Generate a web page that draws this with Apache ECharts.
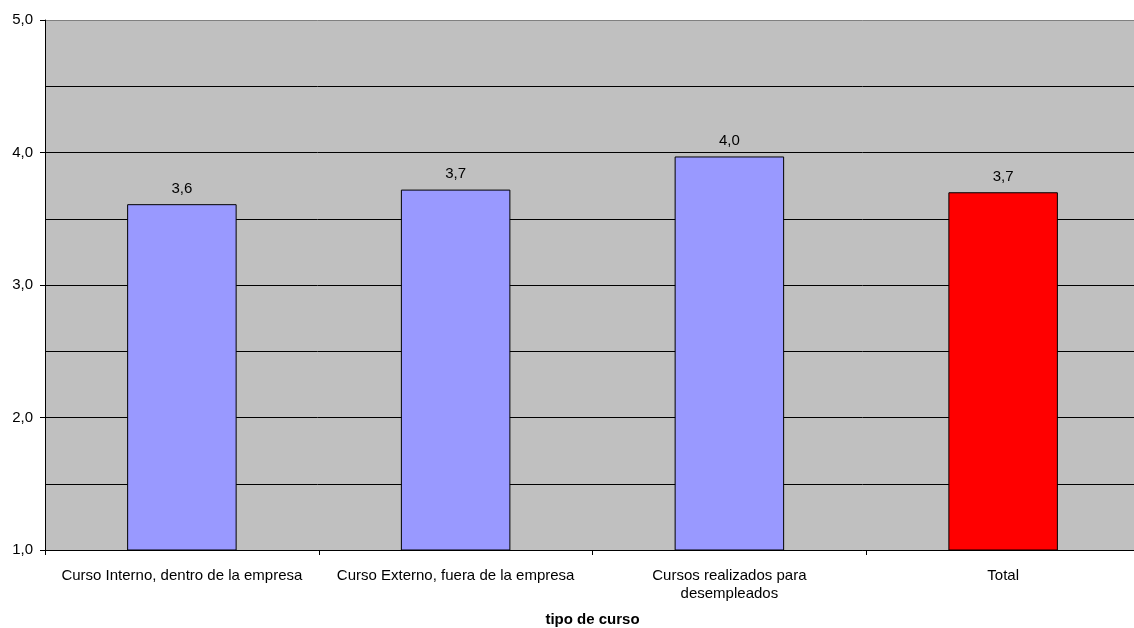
<!DOCTYPE html>
<html>
<head>
<meta charset="utf-8">
<script src="https://cdn.jsdelivr.net/npm/echarts@6/dist/echarts.min.js"></script>
<style>
  html, body { margin: 0; padding: 0; background: #fff; }
  #chart { width: 1134px; height: 628px; }
</style>
</head>
<body>
<div id="chart"></div>
<script>
// Course types along the category axis
const categories = [
  'Curso Interno, dentro de la empresa',
  'Curso Externo, fuera de la empresa',
  'Cursos realizados para\ndesempleados',
  'Total'
];
// Average rating per course type
const values = [3.61, 3.72, 3.97, 3.70];
const barColors = ['#9999FF', '#9999FF', '#9999FF', '#FF0000'];

const fmt = v => v.toFixed(1).replace('.', ',');
const font = 'Liberation Sans, Arial, sans-serif';

const chart = echarts.init(document.getElementById('chart'));
chart.setOption({
  animation: false,
  grid: {
    left: 45, top: 20, width: 1095, height: 530,
    outerBoundsMode: 'none',
    containLabel: false,
    show: true, backgroundColor: '#C0C0C0', borderWidth: 0
  },
  xAxis: {
    type: 'category',
    data: categories,
    name: 'tipo de curso',
    nameLocation: 'middle',
    nameGap: 62,
    nameTextStyle: { fontFamily: font, fontSize: 15, fontWeight: 'bold', color: '#000' },
    axisLine: { lineStyle: { color: '#000', width: 1 } },
    axisTick: { show: true, length: 5, lineStyle: { color: '#000' } },
    axisLabel: { fontFamily: font, fontSize: 15, color: '#000', margin: 17, lineHeight: 18, interval: 0 }
  },
  yAxis: {
    type: 'value',
    min: 1, max: 5, interval: 1,
    axisLine: { show: true, lineStyle: { color: '#000', width: 1 } },
    axisTick: { show: true, length: 5, lineStyle: { color: '#000' } },
    axisLabel: { fontFamily: font, fontSize: 15, color: '#000', margin: 12, formatter: fmt },
    splitLine: { show: true, lineStyle: { color: ['#000', '#000', '#000', '#000', '#808080'], width: 1 } },
    minorTick: { show: false, splitNumber: 2 },
    minorSplitLine: { show: true, lineStyle: { color: '#000', width: 1 } }
  },
  series: [{
    type: 'bar',
    barWidth: '40%',
    data: values.map((v, i) => ({
      value: v,
      itemStyle: { color: barColors[i], borderColor: '#000', borderWidth: 1 }
    })),
    label: {
      show: true, position: 'top', distance: 8,
      fontFamily: font, fontSize: 15, color: '#000',
      formatter: p => fmt(p.value)
    }
  }]
});
</script>
</body>
</html>
